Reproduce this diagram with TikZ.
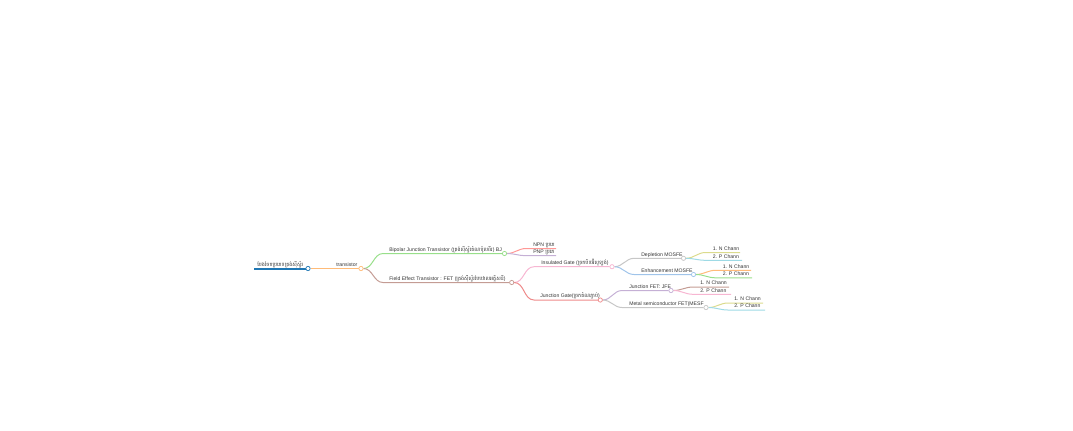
\documentclass[tikz,border=0pt]{standalone}
\usepackage{fontspec}
\setmainfont{Liberation Sans}
\newfontfamily\khmer[Script=Khmer]{Battambang}
\usetikzlibrary{backgrounds}
\definecolor{txt}{HTML}{333333}
\definecolor{cblue}{HTML}{1F77B4}
\definecolor{corange}{HTML}{FFBB78}
\definecolor{cgreen}{HTML}{98DF8A}
\definecolor{cbrown}{HTML}{C49C94}
\definecolor{cred}{HTML}{FF9896}
\definecolor{cred2}{HTML}{EE8A8A}
\definecolor{cpurple}{HTML}{C5B0D5}
\definecolor{cpink}{HTML}{F7B6D2}
\definecolor{cgray}{HTML}{C7C7C7}
\definecolor{clblue}{HTML}{A0C4EA}
\definecolor{cyellow}{HTML}{DBDB8D}
\definecolor{ccyan}{HTML}{9EDAE5}
\tikzset{
  lbl/.style={anchor=base west, inner sep=0pt, text=txt, font=\fontsize{3.85pt}{4.5pt}\selectfont},
  dot/.style={circle, draw, fill=white, inner sep=0pt, minimum size=3.2pt, line width=0.55pt},
  ln/.style={line width=0.75pt},
  lk/.style={line width=0.75pt, out=0, in=180},
}
\begin{document}
\begin{tikzpicture}[x=0.75pt, y=-0.75pt]
\useasboundingbox (0,0) rectangle (1073,430);
% ---- starts of underlines
\coordinate (rootS) at (254,268.5);
\coordinate (bjtS) at (383,253.5);
\coordinate (fetS) at (383,282.5);
\coordinate (npnS) at (526,248.5);  \coordinate (npnE) at (556,248.5);
\coordinate (pnpS) at (526,255.7);  \coordinate (pnpE) at (556,255.7);
\coordinate (insS) at (534,266.7);
\coordinate (jgS) at (534,300);
\coordinate (depS) at (634,258.3);
\coordinate (enhS) at (634,274.5);
\coordinate (dnS) at (705.5,252.5); \coordinate (dnE) at (740,252.5);
\coordinate (dpS) at (705.5,260.3); \coordinate (dpE) at (742,260.3);
\coordinate (enS) at (715.5,270.3); \coordinate (enE) at (751,270.3);
\coordinate (epS) at (715.5,277.8); \coordinate (epE) at (752,277.8);
\coordinate (jfS) at (622,290.5);
\coordinate (meS) at (622,307.5);
\coordinate (jnS) at (693,287);     \coordinate (jnE) at (729,287);
\coordinate (jpS) at (693,294.3);   \coordinate (jpE) at (731,294.3);
\coordinate (mnS) at (728,303);     \coordinate (mnE) at (763,303);
\coordinate (mpS) at (728,310);     \coordinate (mpE) at (765,310);
% ---- circles
\node[dot, draw=cblue] (rootC) at (308,268.5) {};
\node[dot, draw=corange] (trC) at (361,268.5) {};
\node[dot, draw=cgreen] (bjtC) at (504.5,253.5) {};
\node[dot, draw=cbrown] (fetC) at (511.7,282.5) {};
\node[dot, draw=cpink] (insC) at (612,266.7) {};
\node[dot, draw=cred2] (jgC) at (600.3,300) {};
\node[dot, draw=cgray] (depC) at (683.5,258.3) {};
\node[dot, draw=clblue] (enhC) at (693.5,274.5) {};
\node[dot, draw=cpurple] (jfC) at (671,290.5) {};
\node[dot, draw=cgray] (meC) at (706,307.5) {};
% ---- labels
\node[lbl] (rootT) at (257,266.3) {{\khmer បែងចែកប្រភេទត្រង់ស៊ីស្ទ័រ}};
\node[lbl] (trT) at (336,266.3) {transistor};
\node[lbl] (bjtT) at (389,251.3) {Bipolar Junction Transistor ({\khmer ត្រង់ស៊ីស្ទ័រតំណប៉ូលពីរ}) BJ};
\node[lbl] (fetT) at (389,280.3) {Field Effect Transistor : FET ({\khmer ត្រង់ស៊ីស្ទ័របែបវាលអគ្គិសនី})};
\node[lbl] (npnT) at (533,246.3) {NPN {\khmer ប្រភេ}};
\node[lbl] (pnpT) at (533,253.5) {PNP {\khmer ប្រភេ}};
\node[lbl] (insT) at (541,264.5) {Insulated Gate ({\khmer ច្រកបិទអ៊ីសូឡង់})};
\node[lbl] (jgT) at (540,297.8) {Junction Gate({\khmer ច្រកតំណភ្ជាប់})};
\node[lbl] (depT) at (641,256.1) {Depletion MOSFE};
\node[lbl] (enhT) at (641,272.3) {Enhancement MOSFE};
\node[lbl] (dnT) at (712.5,250.3) {1. N Chann};
\node[lbl] (dpT) at (712.5,258.1) {2. P Chann};
\node[lbl] (enT) at (722.5,268.1) {1. N Chann};
\node[lbl] (epT) at (722.5,275.6) {2. P Chann};
\node[lbl] (jfT) at (629,288.3) {Junction FET: JFE};
\node[lbl] (meT) at (629,305.3) {Metal semiconductor FET(MESF};
\node[lbl] (jnT) at (700,284.8) {1. N Chann};
\node[lbl] (jpT) at (700,292.1) {2. P Chann};
\node[lbl] (mnT) at (734,300.8) {1. N Chann};
\node[lbl] (mpT) at (734,307.8) {2. P Chann};
% ---- connectors
\begin{pgfonlayer}{background}
\draw[line width=1.5pt, cblue] (rootS) -- (rootC);
\draw[ln, corange] (rootC) -- (trC);
\draw[ln, cgreen] (trC) to[lk] (bjtS) -- (bjtC);
\draw[ln, cbrown] (trC) to[lk] (fetS) -- (fetC);
\draw[ln, cred] (bjtC) to[lk] (npnS) -- (npnE);
\draw[ln, cpurple] (bjtC) to[lk] (pnpS) -- (pnpE);
\draw[ln, cpink] (fetC) to[lk] (insS) -- (insC);
\draw[ln, cred2] (fetC) to[lk] (jgS) -- (jgC);
\draw[ln, cgray] (insC) to[lk] (depS) -- (depC);
\draw[ln, clblue] (insC) to[lk] (enhS) -- (enhC);
\draw[ln, cyellow] (depC) to[lk] (dnS) -- (dnE);
\draw[ln, ccyan] (depC) to[lk] (dpS) -- (dpE);
\draw[ln, corange] (enhC) to[lk] (enS) -- (enE);
\draw[ln, cgreen] (enhC) to[lk] (epS) -- (epE);
\draw[ln, cpurple] (jgC) to[lk] (jfS) -- (jfC);
\draw[ln, cgray] (jgC) to[lk] (meS) -- (meC);
\draw[ln, cbrown] (jfC) to[lk] (jnS) -- (jnE);
\draw[ln, cpink] (jfC) to[lk] (jpS) -- (jpE);
\draw[ln, cyellow] (meC) to[lk] (mnS) -- (mnE);
\draw[ln, ccyan] (meC) to[lk] (mpS) -- (mpE);
\end{pgfonlayer}
\end{tikzpicture}
\end{document}
